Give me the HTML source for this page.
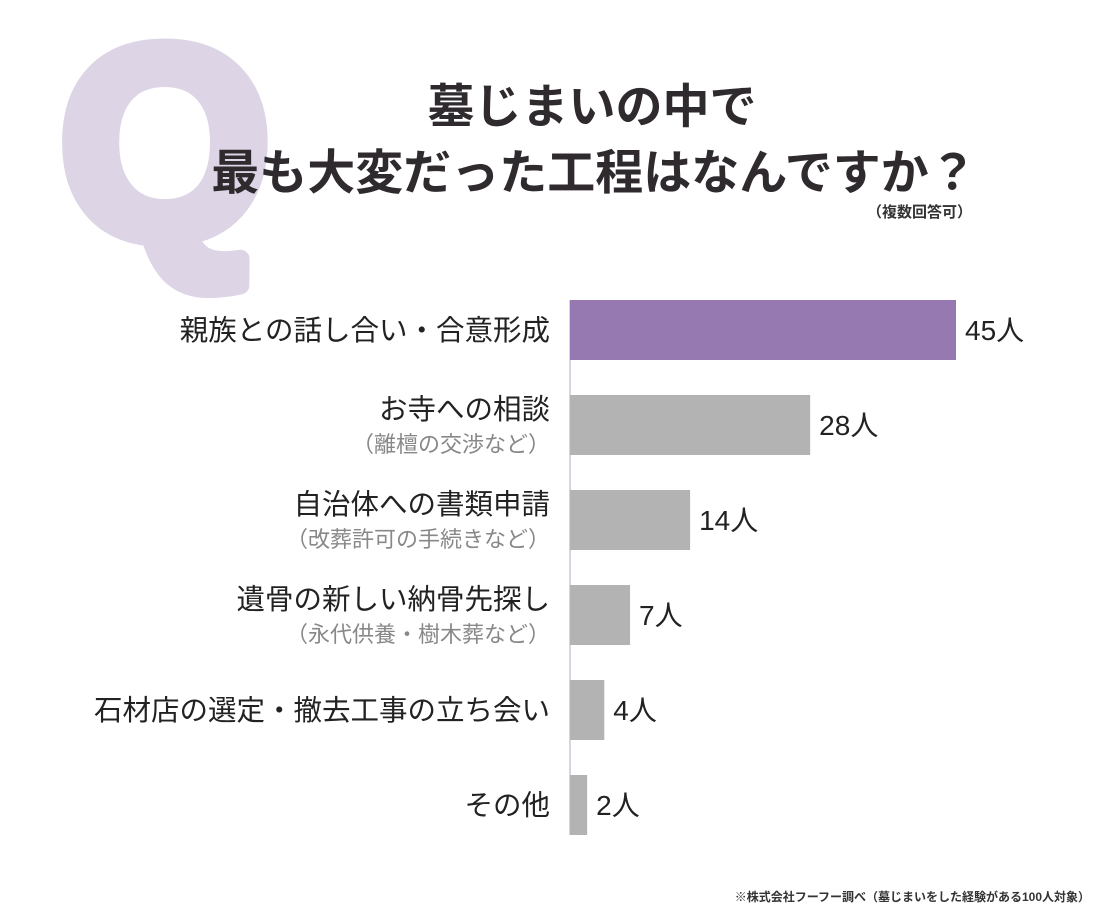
<!DOCTYPE html>
<html><head><meta charset="utf-8">
<style>
body{margin:0;width:1100px;height:912px;background:#fff;overflow:hidden;font-family:"Liberation Sans","Noto Sans CJK JP",sans-serif;}
svg{display:block}
</style></head>
<body>
<svg id="chart" width="1100" height="912">
<text x="165" y="236" text-anchor="middle" style="font-family:'Liberation Sans',sans-serif;font-weight:bold;font-size:270px" fill="#ddd5e6" stroke="#ddd5e6" stroke-width="18" stroke-linejoin="round">Q</text>
<text x="592" y="123" text-anchor="middle" font-size="47" font-weight="bold" fill="#2e2a2e" font-family="Liberation Sans, Noto Sans CJK JP, sans-serif">墓じまいの中で</text>
<text x="594" y="189" text-anchor="middle" font-size="48" font-weight="bold" fill="#2e2a2e" font-family="Liberation Sans, Noto Sans CJK JP, sans-serif">最も大変だった工程はなんですか？</text>
<text x="972" y="217" text-anchor="end" font-size="15" font-weight="bold" fill="#333" font-family="Liberation Sans, Noto Sans CJK JP, sans-serif">（複数回答可）</text>
<text x="1090" y="901" text-anchor="end" font-size="12" font-weight="bold" fill="#333" font-family="Liberation Sans, Noto Sans CJK JP, sans-serif">※株式会社フーフー調べ（墓じまいをした経験がある100人対象）</text>
</svg>
<script>
const categories=["親族との話し合い・合意形成","お寺への相談","自治体への書類申請","遺骨の新しい納骨先探し","石材店の選定・撤去工事の立ち会い","その他"];
const subLabels=["","（離檀の交渉など）","（改葬許可の手続きなど）","（永代供養・樹木葬など）","",""];
const values=[45,28,14,7,4,2];
const unit="人";
const svg=document.getElementById('chart');
const NS='http://www.w3.org/2000/svg';
const x0=570, pxPer=386/45, top0=300, step=95, bh=60;
const xs=v=>x0+v*pxPer;
const ys=i=>top0+i*step;
function mk(tag,attrs){const e=document.createElementNS(NS,tag);for(const k in attrs)e.setAttribute(k,attrs[k]);svg.appendChild(e);return e;}
const axis=mk('line',{x1:x0,x2:x0,y1:top0,y2:ys(values.length-1)+bh,stroke:'#cfc3da','stroke-width':1.5});


values.forEach((v,i)=>{
  const r=mk('rect',{x:x0,y:ys(i),width:xs(v)-x0,height:bh,fill:i===0?'#9679b0':'#b3b3b3'});
  
  
  const t=mk('text',{x:xs(v)+9,y:ys(i)+bh/2+10,'font-size':28,fill:'#222'});
  t.textContent=v+unit;
  
  
  const hasSub=subLabels[i]!=="";
  const l=mk('text',{x:550,y:ys(i)+(hasSub?24:bh/2+10),'text-anchor':'end','font-size':28.5,fill:'#222'});
  l.textContent=categories[i];
  
  
  if(hasSub){
    const s=mk('text',{x:550,y:ys(i)+57,'text-anchor':'end','font-size':22,fill:'#888'});
    s.textContent=subLabels[i];
    
    
  }
});
</script>
</body></html>
